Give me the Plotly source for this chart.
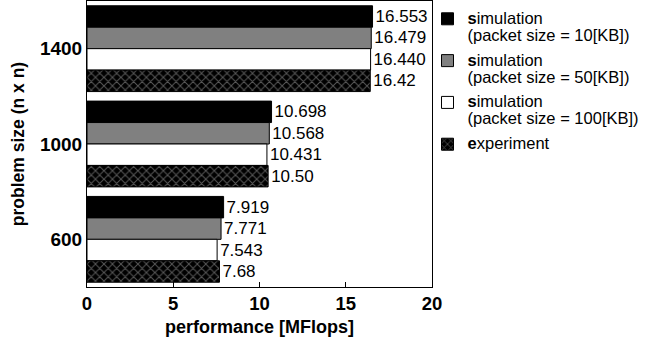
import plotly.graph_objects as go

categories = ["1400", "1000", "600"]
sim10 = [16.553, 10.698, 7.919]
sim50 = [16.479, 10.568, 7.771]
sim100 = [16.440, 10.431, 7.543]
experiment = [16.42, 10.50, 7.68]
sim10_lbl = ["16.553", "10.698", "7.919"]
sim50_lbl = ["16.479", "10.568", "7.771"]
sim100_lbl = ["16.440", "10.431", "7.543"]
exp_lbl = ["16.42", "10.50", "7.68"]
names = [
    "<b>s</b>imulation<br>(packet size = 10[KB])",
    "<b>s</b>imulation<br>(packet size = 50[KB])",
    "<b>s</b>imulation<br>(packet size = 100[KB])",
    "<b>e</b>xperiment",
]

FONT = "Arial, Liberation Sans, sans-serif"
fig = go.Figure()

def wrap(t):
    return "<br>".join('<span style="font-size:16.5px">%s</span>' % p for p in t.split("<br>"))

def add(i, vals, lbls, color, pattern=None):
    marker = dict(color=color, line=dict(color="black", width=1))
    if pattern:
        marker["pattern"] = pattern
    fig.add_trace(go.Bar(
        y=categories, x=vals, orientation="h", name=wrap(names[i]),
        legendgroup="g%d" % i,
        text=lbls, textposition="outside", cliponaxis=False,
        textfont=dict(family=FONT, size=17, color="black"),
        marker=marker,
    ))

add(0, sim10, sim10_lbl, "black")
add(1, sim50, sim50_lbl, "#808080")
add(2, sim100, sim100_lbl, "white")
add(3, experiment, exp_lbl, "black",
    dict(shape="x", bgcolor="black", fgcolor="#b0b0b0", size=6, solidity=0.3))

fig.update_layout(
    width=653, height=347,
    margin=dict(l=87, r=221, t=1, b=60),
    barmode="group", bargap=0.1, bargroupgap=0,
    plot_bgcolor="white", paper_bgcolor="white",
    font=dict(family=FONT, color="black"),
    showlegend=True,
    legend=dict(traceorder="grouped", tracegroupgap=5,
                x=0.987, y=0.99, xanchor="left", yanchor="top",
                valign="top", font=dict(size=13, family=FONT),
                bgcolor="rgba(0,0,0,0)"),
)
fig.update_xaxes(range=[0, 20], tickvals=[0, 5, 10, 15, 20],
                 ticks="inside", ticklen=5, tickcolor="black",
                 showline=True, linecolor="black", linewidth=1, mirror=True,
                 showgrid=False, zeroline=False,
                 tickfont=dict(size=18.5, family=FONT, weight="bold"),
                 title=dict(text="<b>performance [MFlops]</b>", font=dict(size=18), standoff=7))
fig.update_yaxes(autorange="reversed",
                 showline=True, linecolor="black", linewidth=1, mirror=True,
                 showgrid=False, ticks="",
                 tickfont=dict(size=19, family=FONT, weight="bold"),
                 title=dict(text="<b>problem size (n x n)</b>", font=dict(size=17.5), standoff=10))

fig.write_html("out.html")
